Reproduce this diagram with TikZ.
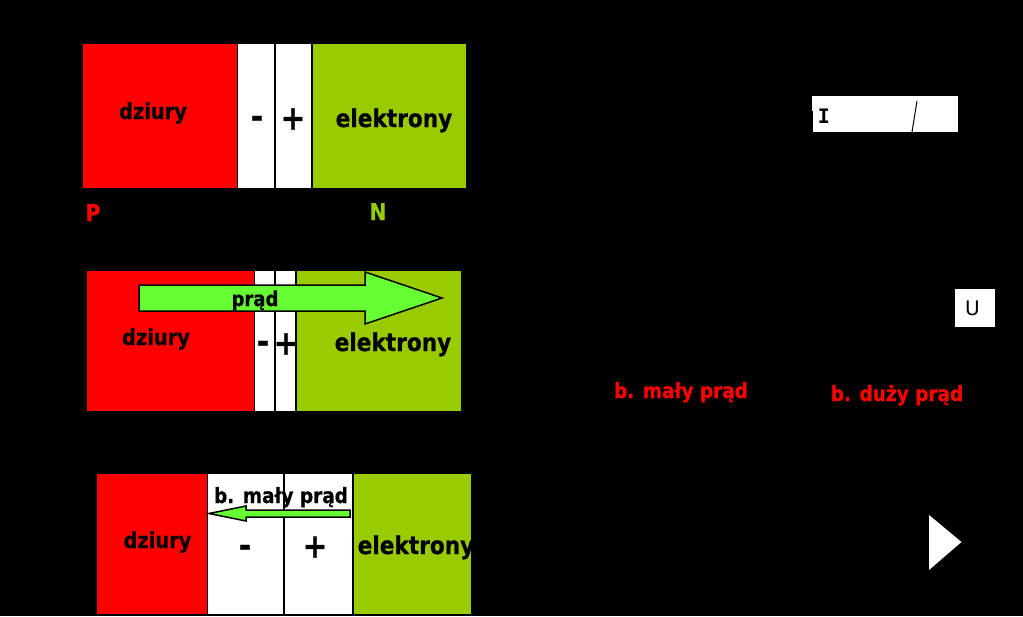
\documentclass[tikz,border=0pt]{standalone}
\usepackage{fontspec}
\setmainfont{DejaVu Sans}
\newfontfamily\monofam{DejaVu Sans Mono}
\newfontfamily\headfam[FakeStretch=0.88,FakeBold=0.6]{DejaVu Sans}
\definecolor{pred}{HTML}{FF0000}
\definecolor{ngreen}{HTML}{99CC00}
\definecolor{arrowgreen}{HTML}{66FF33}
\tikzset{
  lbl/.style={font=\headfam\bfseries\fontsize{#1}{#1}\selectfont,text=black,inner sep=0pt,anchor=base},
  lbl/.default={22},
  sign/.style={font=\headfam\bfseries\fontsize{34}{34}\selectfont,text=black,inner sep=0pt,anchor=center},
  redlbl/.style={font=\headfam\bfseries\fontsize{21}{21}\selectfont,text=pred,inner sep=0pt,anchor=base},
  flow/.style={draw=black,line width=1.5pt,fill=arrowgreen,line join=miter},
  plainlbl/.style={inner sep=0pt,anchor=center,text=black}
}
\begin{document}
\begin{tikzpicture}[x=1pt,y=-1pt]
\useasboundingbox (0,0) rectangle (1023,616);
\fill[black] (0,0) rectangle (1023,616);
% row 1
\fill[pred] (82.5,44) rectangle (237,188);
\fill[white] (238,44) rectangle (274,188);
\fill[white] (276,44) rectangle (311,188);
\fill[ngreen] (313,44) rectangle (466,188);
\node[lbl] (d1) at (153,119) {dziury};
\node[lbl=24.6] (e1) at (394,127) {elektrony};
\node[sign] (m1) at (257,122) {-};
\node[sign] (p1) at (293,119) {+};
\node[lbl=23,text=pred] (P) at (93,221) {P};
\node[lbl=23,text=ngreen] (N) at (378,220) {N};
% row 2
\fill[pred] (86.5,270.5) rectangle (254,411);
\fill[white] (255,270.5) rectangle (274,411);
\fill[white] (276,270.5) rectangle (295,411);
\fill[ngreen] (297,270.5) rectangle (461,411);
\draw[flow] (139,285) -- (365,285) -- (365,272) -- (442,298) -- (365,324) -- (365,311) -- (139,311) -- cycle;
\node[lbl=20.5] (pr) at (255,306) {prąd};
\node[lbl] (d2) at (156,345) {dziury};
\node[lbl=24.6] (e2) at (393,351) {elektrony};
\node[sign] (m2) at (263,347) {-};
\node[sign] (p2) at (286,344) {+};
% row 3
\fill[pred] (96.5,473.5) rectangle (207,614);
\fill[white] (208,473.5) rectangle (283,614);
\fill[white] (285,473.5) rectangle (352,614);
\fill[ngreen] (354,473.5) rectangle (471,614);
\node[lbl=21] (mp) at (281,503) {b. mały prąd};
\draw[flow] (350,510) -- (246,510) -- (246,506) -- (209,513.5) -- (246,521) -- (246,517) -- (350,517) -- cycle;
\node[lbl] (d3) at (157.5,548) {dziury};
\node[lbl=24.6] (e3) at (416,554) {elektrony};
\node[sign] (m3) at (245,551) {-};
\node[sign] (p3) at (315,547) {+};
% right side
\fill[white] (813,96) rectangle (958,132);
\fill[white] (812,96) rectangle (813,111);
\node[plainlbl,font=\monofam\bfseries\fontsize{20}{20}\selectfont] (I) at (824,116) {I};
\draw[black,line width=1pt] (917,101) -- (912,132);
\fill[white] (954.5,289) rectangle (995,327);
\node[plainlbl,font=\fontsize{20}{20}\selectfont] (U) at (972.5,308) {U};
\node[redlbl] (small) at (681,398) {b. mały prąd};
\node[redlbl] (big) at (897,401) {b. duży prąd};
\fill[white] (929,515) -- (961.5,542) -- (929,570) -- cycle;
\end{tikzpicture}
\end{document}
